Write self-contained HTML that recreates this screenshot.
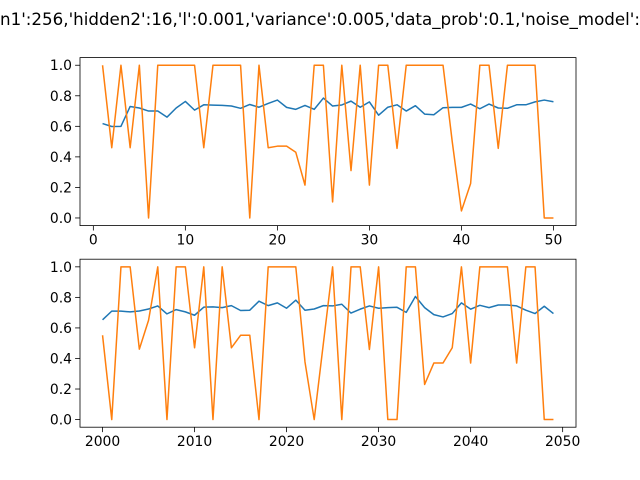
<!DOCTYPE html>
<html><head><meta charset="utf-8"><style>
html,body{margin:0;padding:0;background:#fff;}
svg{display:block;font-family:"DejaVu Sans","Liberation Sans",sans-serif;}
</style></head><body>
<svg id="fig" width="640" height="480" viewBox="0 0 640 480">
<rect width="640" height="480" fill="#fff"/>
<text x="320" y="25" text-anchor="middle" font-size="16.7" textLength="640" lengthAdjust="spacingAndGlyphs">n1':256,'hidden2':16,'l':0.001,'variance':0.005,'data_prob':0.1,'noise_model':</text>
<g id="ax1"></g>
<g id="ax2"></g>
</svg>
<script>
const topX = Array.from({length:50},(_,i)=>i+1);
const topBlue = [0.618,0.599,0.60,0.73,0.72,0.70,0.70,0.66,0.72,0.763,0.706,0.741,0.739,0.737,0.733,0.718,0.743,0.725,0.75,0.772,0.724,0.711,0.737,0.711,0.785,0.733,0.74,0.765,0.725,0.76,0.673,0.725,0.741,0.70,0.735,0.68,0.676,0.722,0.724,0.724,0.746,0.715,0.746,0.72,0.718,0.741,0.741,0.76,0.772,0.761];
const topOrange = [1,0.46,1,0.46,1,0,1,1,1,1,1,0.46,1,1,1,1,0,1,0.46,0.47,0.47,0.43,0.215,1,1,0.105,1,0.31,1,0.215,1,1,0.456,1,1,1,1,1,0.5,0.046,0.226,1,1,0.456,1,1,1,1,0,0];
const botX = Array.from({length:50},(_,i)=>2000+i);
const botBlue = [0.653,0.71,0.71,0.705,0.711,0.724,0.744,0.692,0.72,0.705,0.683,0.736,0.738,0.733,0.746,0.714,0.716,0.775,0.746,0.764,0.729,0.782,0.716,0.724,0.746,0.744,0.755,0.697,0.723,0.744,0.729,0.733,0.735,0.702,0.806,0.733,0.687,0.672,0.694,0.764,0.723,0.748,0.733,0.75,0.75,0.744,0.716,0.694,0.742,0.694];
const botOrange = [0.552,0,1,1,0.461,0.65,1,0,1,1,0.47,1,0,1,0.47,0.552,0.552,0,1,1,1,1,0.377,0,0.5,1,0,1,1,0.459,1,0,0,1,1,0.23,0.37,0.37,0.47,1,0.37,1,1,1,1,0.37,1,1,0,0];
const topXTicks = [0,10,20,30,40,50];
const botXTicks = [2000,2010,2020,2030,2040,2050];
const yTicks = [0.0,0.2,0.4,0.6,0.8,1.0];

const NS="http://www.w3.org/2000/svg";
function mk(tag,attrs,parent){const e=document.createElementNS(NS,tag);for(const k in attrs)e.setAttribute(k,attrs[k]);parent.appendChild(e);return e;}
function drawAxes(g,L,T,W,H,xs,s1,s2,xticks,prefix){
  const xmin=xs[0],xmax=xs[xs.length-1],xm=(xmax-xmin)*0.05;
  const x0=xmin-xm,x1=xmax+xm,y0=-0.05,y1=1.05;
  const X=v=>L+(v-x0)/(x1-x0)*W, Y=v=>T+H-(v-y0)/(y1-y0)*H;
  xticks.forEach(t=>{
    const tk=mk('line',{x1:X(t),x2:X(t),y1:T+H,y2:T+H+4.9,stroke:'#000','stroke-width':0.8},g);
    
    
    const tl=mk('text',{x:X(t),y:T+H+19,'text-anchor':'middle','font-size':13.9},g);
    tl.textContent=t;
    
    
  });
  yTicks.forEach(t=>{
    const tk=mk('line',{x1:L-4.9,x2:L,y1:Y(t),y2:Y(t),stroke:'#000','stroke-width':0.8},g);
    
    
    const tl=mk('text',{x:L-8,y:Y(t)+5,'text-anchor':'end','font-size':13.9},g);
    tl.textContent=t.toFixed(1);
    
    
  });
  [[s1,'#1f77b4','blue'],[s2,'#ff7f0e','orange']].forEach(([s,c,n])=>{
    const p=mk('polyline',{points:s.map((v,i)=>X(xs[i]).toFixed(2)+','+Y(v).toFixed(2)).join(' '),fill:'none',stroke:c,'stroke-width':1.5,'stroke-linejoin':'round'},g);
    
    
  });
  const fr=mk('rect',{x:L,y:T,width:W,height:H,fill:'none',stroke:'#000','stroke-width':0.8},g);
  
  
}
drawAxes(document.getElementById('ax1'),80,57.6,496,168,topX,topBlue,topOrange,topXTicks,'top');
drawAxes(document.getElementById('ax2'),80,259.2,496,168,botX,botBlue,botOrange,botXTicks,'bottom');
</script>
</body></html>
